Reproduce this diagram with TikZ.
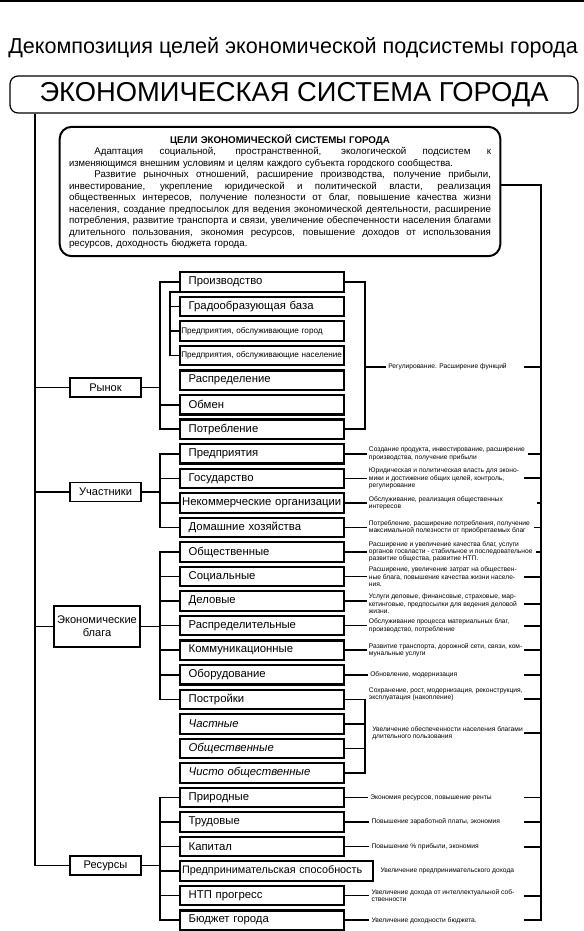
\documentclass[tikz,border=0pt]{standalone}
\usepackage{fontspec}
\usepackage{graphicx}
\setmainfont{Liberation Sans}
\usetikzlibrary{positioning}
\newlength{\goalw}
\setlength{\goalw}{316.5pt}
\newlength{\goalwi}
\setlength{\goalwi}{297.5pt}
\newcommand{\fullline}[1]{\makebox[\goalw][s]{\spaceskip=0.28em plus 2em minus 0.1em #1}}
\newcommand{\indline}[1]{\hspace*{19pt}\makebox[\goalwi][s]{\spaceskip=0.28em plus 2em minus 0.1em #1}}
\newcommand{\lastline}[1]{\makebox[\goalw][l]{#1}}

\begin{document}
\begin{tikzpicture}[
    x=0.75pt, y=-0.75pt,
    mainbox/.style={draw, line width=0.9pt, rounded corners=6pt, minimum width=426pt, minimum height=27.75pt, inner sep=0pt, font=\fontsize{20.5}{22}\selectfont},
    goalbox/.style={draw, line width=1.5pt, rounded corners=9pt, text width=\goalw, inner xsep=7pt, minimum height=97pt, align=center, font=\fontsize{7.3}{8.6}\selectfont},
    grp/.style={draw, line width=1.3pt, minimum width=53pt, minimum height=14.3pt, inner sep=1pt, align=center, font=\fontsize{8.3}{9.6}\selectfont},
    item/.style={draw, line width=1.6pt, outer sep=0pt, minimum height=14.6pt, inner xsep=6.5pt, inner ysep=0pt, text width=110pt, align=left, font=\fontsize{8.5}{10}\selectfont},
    itemwide/.style={item, inner xsep=1.6pt, text width=119.8pt},
    itemsmall/.style={item, inner xsep=1pt, text width=121pt, font=\fontsize{6.1}{7}\selectfont},
    stack/.style={below=3.81pt of #1.south west, anchor=north west},
    desc/.style={inner xsep=1.5pt, inner ysep=0pt, align=left, font=\fontsize{5}{5.4}\selectfont},
    link/.style={line width=1.2pt},
    trunk/.style={line width=1.4pt}
]
  \useasboundingbox (0,0) rectangle (584,931);
  \fill (0,0) rectangle (584,2.5);

  \node[font=\fontsize{16.2}{18}\selectfont] (title) at (293,48) {Декомпозиция целей экономической подсистемы города};
  \node[mainbox] (main) at (294,94.5) {ЭКОНОМИЧЕСКАЯ СИСТЕМА ГОРОДА};
  \node[goalbox] (goals) at (280,191.5) {\textbf{ЦЕЛИ ЭКОНОМИЧЕСКОЙ СИСТЕМЫ ГОРОДА}\\
    \indline{Адаптация социальной, пространственной, экологической подсистем к}\\
    \lastline{\scalebox{0.967}[1]{изменяющимся внешним условиям и целям каждого субъекта городского сообщества.}}\\
    \indline{Развитие рыночных отношений, расширение производства, получение прибыли,}\\
    \fullline{инвестирование, укрепление юридической и политической власти, реализация}\\
    \fullline{общественных интересов, получение полезности от благ, повышение качества жизни}\\
    \fullline{населения, создание предпосылок для ведения экономической деятельности, расширение}\\
    \fullline{потребления, развитие транспорта и связи, увеличение обеспеченности населения благами}\\
    \fullline{длительного пользования, экономия ресурсов, повышение доходов от использования}\\
    \lastline{ресурсов, доходность бюджета города.}};

  \node[item, anchor=west] (proiz) at (180,282) {Производство};
  \node[item, stack=proiz] (grad) {Градообразующая база};
  \node[itemsmall, stack=grad] (pgor) {Предприятия, обслуживающие город};
  \node[itemsmall, stack=pgor] (pnas) {Предприятия, обслуживающие население};
  \node[item, stack=pnas] (raspr) {Распределение};
  \node[item, stack=raspr] (obmen) {Обмен};
  \node[item, stack=obmen] (potr) {Потребление};
  \node[item, stack=potr] (pred) {Предприятия};
  \node[item, stack=pred] (gos) {Государство};
  \node[itemwide, stack=gos] (nekom) {Некоммерческие организации};
  \node[item, stack=nekom] (dom) {Домашние хозяйства};
  \node[item, stack=dom] (obsch) {Общественные};
  \node[item, stack=obsch] (soc) {Социальные};
  \node[item, stack=soc] (delo) {Деловые};
  \node[item, stack=delo] (raspd) {Распределительные};
  \node[item, stack=raspd] (komm) {Коммуникационные};
  \node[item, stack=komm] (obor) {Оборудование};
  \node[item, stack=obor] (post) {Постройки};
  \node[item, stack=post, font=\fontsize{8.5}{10}\selectfont\itshape] (chast) {Частные};
  \node[item, stack=chast, font=\fontsize{8.5}{10}\selectfont\itshape] (obschb) {Общественные};
  \node[item, stack=obschb, font=\fontsize{8.5}{10}\selectfont\itshape] (chisto) {Чисто общественные};
  \node[item, stack=chisto] (prir) {Природные};
  \node[item, stack=prir] (trud) {Трудовые};
  \node[item, stack=trud] (kap) {Капитал};
  \node[itemwide, stack=kap, text width=141.5pt, font=\fontsize{8.1}{10}\selectfont] (predsp) {Предпринимательская способность};
  \node[item, stack=predsp] (ntp) {НТП прогресс};
  \node[item, stack=ntp] (budg) {Бюджет города};

  \node[grp] (rynok) at (105.5,387.5) {Рынок};
  \node[grp] (uch) at (105.5,492) {Участники};
  \node[grp, minimum width=64.5pt, minimum height=30.75pt] (blaga) at (97,626.5) {Экономические\\блага};
  \node[grp] (res) at (105.5,865.5) {Ресурсы};

  \coordinate (lt) at (35,0);
  \coordinate (bl) at (160,0);
  \coordinate (sb) at (170,0);
  \coordinate (rb) at (365,0);
  \coordinate (tk) at (524,0);
  \coordinate (rt) at (541,0);

  \node[desc, anchor=west] (d-ryn) at (386,366.7) {Регулирование. Расширение функций};
  \node[desc, right=17pt of pred] (d-pred) {Создание продукта, инвестирование, расширение\\производства, получение прибыли};
  \node[desc, right=17pt of gos] (d-gos) {Юридическая и политическая власть для эконо-\\мики и достижение общих целей, контроль,\\регулирование};
  \node[desc, right=17pt of nekom] (d-nekom) {Обслуживание, реализация общественных\\интересов};
  \node[desc, right=17pt of dom] (d-dom) {Потребление, расширение потребления, получение\\максимальной полезности от приобретаемых благ};
  \node[desc, right=17pt of obsch] (d-obsch) {Расширение и увеличение качества благ, услуги\\органов госвласти - стабильное и последовательное\\развитие общества, развитие НТП.};
  \node[desc, right=17pt of soc] (d-soc) {Расширение, увеличение затрат на обществен-\\ные блага, повышение качества жизни населе-\\ния.};
  \node[desc, right=17pt of delo, yshift=-2pt] (d-delo) {Услуги деловые, финансовые, страховые, мар-\\кетинговые, предпосылки для ведения деловой\\жизни.};
  \node[desc, right=17pt of raspd] (d-raspd) {Обслуживание процесса материальных благ,\\производство, потребление};
  \node[desc, right=17pt of komm] (d-komm) {Развитие транспорта, дорожной сети, связи, ком-\\мунальные услуги};
  \node[desc, right=18pt of obor] (d-obor) {Обновление, модернизация};
  \node[desc, right=17pt of post, yshift=4pt] (d-post) {Сохранение, рост, модернизация, реконструкция,\\эксплуатация (накопление)};
  \node[desc, right=19.5pt of chast, yshift=-7pt] (d-uvel) {Увеличение обеспеченности населения благами\\длительного пользования};
  \node[desc, right=18pt of prir] (d-prir) {Экономия ресурсов, повышение ренты};
  \node[desc, right=19pt of trud] (d-trud) {Повышение заработной платы, экономия};
  \node[desc, right=19pt of kap] (d-kap) {Повышение \% прибыли, экономия};
  \node[desc, right=4pt of predsp] (d-predsp) {Увеличение предпринимательского дохода};
  \node[desc, right=19pt of ntp] (d-ntp) {Увеличение дохода от интеллектуальной соб-\\ственности};
  \node[desc, right=19pt of budg] (d-budg) {Увеличение доходности бюджета.};

  \draw[link] (main.south -| lt) |- (res.west);
  \foreach \g in {rynok, uch, blaga}
    \draw[link] (\g.west -| lt) -- (\g.west);

  \draw[link] (rynok.east) -- (rynok.east -| bl);
  \draw[link] (proiz.west) -| (bl |- potr.west) -- (potr.west);
  \draw[link] (obmen.west -| bl) -- (obmen.west);
  \draw[link] (proiz.south west) -| (sb |- pnas.west) -- (pnas.west);
  \foreach \i in {grad, pgor}
    \draw[link] (\i.west -| sb) -- (\i.west);
  \draw[link] (proiz.east) -| (rb |- potr.east) -- (potr.east);
  \draw[link] (d-ryn.west -| rb) -- (d-ryn.west);

  \draw[link] (uch.east) -- (uch.east -| bl);
  \draw[link] (pred.west) -| (bl |- dom.west) -- (dom.west);
  \foreach \i in {gos, nekom}
    \draw[link] (\i.west -| bl) -- (\i.west);

  \draw[link] (blaga.east) -- (blaga.east -| bl);
  \draw[link] (obsch.west) -| (bl |- post.west) -- (post.west);
  \foreach \i in {soc, delo, raspd, komm, obor}
    \draw[link] (\i.west -| bl) -- (\i.west);

  \draw[link] (res.east) -- (res.east -| bl);
  \draw[link] (prir.west) -| (bl |- budg.west) -- (budg.west);
  \foreach \i in {trud, kap, predsp, ntp}
    \draw[link] (\i.west -| bl) -- (\i.west);

  \foreach \i in {pred, gos, nekom, dom, obsch, soc, delo, raspd, komm, obor, prir, trud, kap, ntp, budg}
    \draw[link] (\i.east) -- (\i.east -| d-\i.west);
  \draw[link] (post.east) -| (rb |- chisto.east) -- (chisto.east);
  \foreach \i in {chast, obschb}
    \draw[link] (\i.east) -- (\i.east -| rb);

  \draw[trunk] ([yshift=4.9pt]goals.east) -| (rt |- budg) -- (tk |- budg);
  \foreach \i in {ryn, gos, soc, delo, raspd, komm, obor, uvel, prir, trud, kap, ntp}
    \draw[trunk] (d-\i.east -| tk) -- (d-\i.east -| rt);
  \foreach \i in {pred, dom, obsch}
    \draw[trunk] ([xshift=1pt]d-\i.east) -- (d-\i.east -| rt);
  \draw[trunk] ([xshift=24pt]d-nekom.east) -- (d-nekom.east -| rt);
  \draw[trunk] (post -| tk) -- (post -| rt);
\end{tikzpicture}
\end{document}
